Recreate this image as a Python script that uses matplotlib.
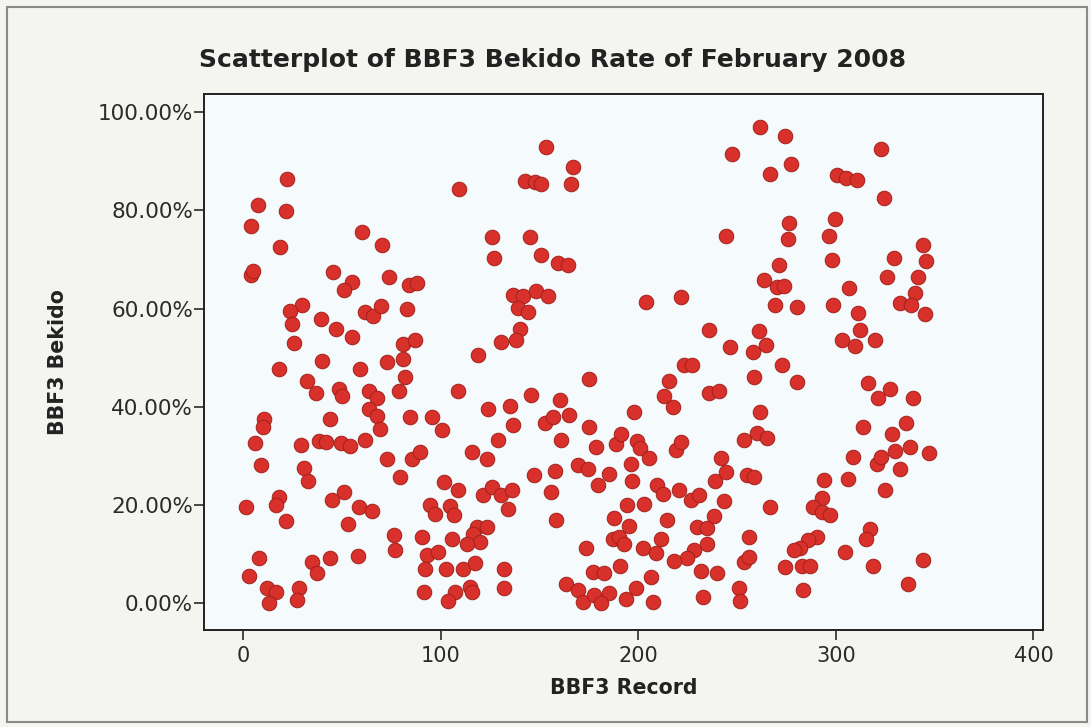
import matplotlib
matplotlib.use("Agg")
import matplotlib.pyplot as plt
from matplotlib.patches import Rectangle
from matplotlib.ticker import FuncFormatter

# BBF3 record number and Bekido rate (%) for February 2008
record = [
    22.5, 7.7, 22.0, 4.0, 19.0, 60.0, 70.4, 4.0, 5.0, 45.5,
    55.0, 51.0, 74.0, 84.0, 83.0, 29.7, 24.0, 25.0, 39.3, 46.9,
    55.0, 61.6, 66.0, 70.0, 25.8, 40.0, 73.0, 81.0, 81.0, 18.0,
    59.4,
    32.6, 36.8, 48.5, 50.2, 82.0, 78.8, 63.6, 67.9, 63.6, 67.9,
    69.5, 84.6, 10.7, 9.9, 44.3, 6.2, 29.2, 38.4, 41.8, 49.4,
    54.4, 61.6, 72.9, 85.5, 79.6, 9.1, 30.9, 33.1, 1.5, 18.3,
    16.6, 21.7, 51.0, 45.2, 58.6, 65.3, 53.2, 76.2, 77.0, 7.9,
    35.1, 37.6, 44.3, 58.3, 3.2, 12.4, 16.6, 13.2, 28.4, 27.5,
    153.1, 166.9, 166.1, 142.6, 147.6, 151.0, 109.5, 126.1, 145.1, 127.1,
    150.6, 159.3, 164.4, 88.0, 87.2, 136.7, 141.7, 148.5, 154.3, 139.2,
    144.2, 140.0, 138.4, 130.8, 118.7,
    109.0, 145.9, 160.2, 124.1, 135.0, 95.6, 100.6, 136.7, 152.6, 156.8,
    165.2, 129.1, 161.0, 89.7, 115.7, 123.3, 147.3, 157.7, 169.4, 101.9,
    108.7, 121.6, 125.8, 130.8, 136.2, 134.2, 156.0, 94.7, 97.2, 104.8,
    107.0, 158.5, 118.2, 123.3, 116.5, 119.9, 113.2, 90.5, 105.6, 93.0,
    98.9, 92.2, 102.6, 111.5, 117.4, 132.1, 132.1, 91.4, 107.3, 103.9,
    114.9, 115.7, 163.6, 169.4, 175.0, 175.3, 174.5, 173.6, 177.0, 172.0,
    261.8, 247.5, 266.8, 244.2, 263.5, 203.9, 221.8, 235.8, 261.0, 264.8,
    258.1, 246.7, 223.2, 227.4,
    258.4, 215.6, 213.1, 217.8, 235.8, 240.8, 261.8, 198.0, 178.7, 188.8,
    191.3, 199.6, 201.0, 205.5, 219.0, 221.5, 253.4, 260.1, 265.1, 241.7,
    185.4, 196.3, 179.5, 197.1, 209.7, 212.7, 220.7, 226.6, 230.7, 239.1,
    244.2, 255.1, 258.4, 243.3, 266.5, 194.3, 203.0, 187.9, 195.5, 214.8,
    229.9, 234.9, 238.3, 255.9, 187.1, 190.4, 193.0, 202.2, 208.9, 211.4,
    228.2, 224.8, 218.1, 234.9, 253.4, 255.9, 190.9, 206.4, 231.6, 240.0,
    198.8, 177.8, 185.4, 181.2, 193.8, 207.7, 232.9, 250.9, 251.7, 182.9,
    274.4, 277.3, 323.1, 300.4, 305.4, 310.5, 324.3, 299.6, 276.1, 275.6,
    296.7, 297.9, 344.1, 329.5, 345.8, 326.0, 341.6, 271.0, 270.2, 273.6,
    269.4, 280.6, 298.7, 306.8, 339.9, 332.3, 338.2, 344.9, 311.3, 312.2,
    302.9, 309.6, 319.7, 272.7,
    280.6, 316.4, 327.3, 321.4, 339.0, 313.9, 335.4, 328.6, 308.5, 329.8,
    337.4, 347.4, 320.6, 323.1, 332.6, 294.0, 306.3, 324.8, 292.8, 288.7,
    292.8, 297.0, 317.2, 315.5, 290.3, 286.1, 281.9, 278.6, 304.6, 344.1,
    274.4, 282.8, 287.0, 318.6, 336.5, 283.3,
]

bekido = [
    86.4, 81.0, 79.9, 76.8, 72.6, 75.6, 72.9, 66.9, 67.6, 67.5,
    65.3, 63.7, 66.5, 64.8, 59.9, 60.8, 59.6, 56.9, 57.8, 55.9,
    54.3, 59.2, 58.4, 60.5, 52.9, 49.3, 49.1, 52.7, 49.7, 47.6,
    47.6,
    45.3, 42.9, 43.6, 42.2, 46.0, 43.3, 43.3, 41.9, 39.5, 38.2,
    35.5, 37.9, 37.5, 35.8, 37.5, 32.6, 32.3, 33.1, 32.8, 32.7,
    32.1, 33.3, 29.4, 29.4, 25.7, 28.1, 27.5, 24.9, 19.6, 21.7,
    20.0, 16.8, 22.7, 21.1, 19.6, 18.8, 16.1, 13.9, 10.9, 9.3,
    8.5, 6.1, 9.2, 9.7, 5.5, 3.1, 2.4, 0.1, 3.1, 0.7,
    92.9, 88.8, 85.4, 86.0, 85.8, 85.4, 84.4, 74.6, 74.6, 70.2,
    70.8, 69.2, 68.8, 65.2, 53.7, 62.8, 62.6, 63.5, 62.6, 60.1,
    59.2, 55.9, 53.6, 53.2, 50.5,
    43.3, 42.5, 41.4, 39.5, 40.2, 37.9, 35.2, 36.4, 36.8, 38.0,
    38.3, 33.3, 33.3, 30.9, 30.8, 29.4, 26.1, 26.9, 28.1, 24.7,
    23.0, 22.0, 23.7, 22.0, 23.0, 19.3, 22.7, 20.1, 18.3, 19.8,
    18.1, 16.9, 15.6, 15.6, 14.2, 12.6, 12.0, 13.6, 13.1, 9.9,
    10.5, 7.0, 7.0, 7.1, 8.2, 7.0, 3.1, 2.3, 2.4, 0.5,
    3.4, 2.4, 3.9, 2.8, 45.6, 35.8, 27.3, 11.2, 6.5, 0.4,
    97.0, 91.4, 87.4, 74.8, 65.8, 61.3, 62.3, 55.7, 55.4, 52.5,
    51.2, 52.2, 48.6, 48.6,
    46.0, 45.3, 42.2, 39.9, 42.9, 43.3, 39.0, 39.0, 31.8, 32.4,
    34.5, 33.1, 31.6, 29.6, 31.3, 32.8, 33.3, 34.7, 33.6, 29.6,
    26.4, 28.4, 24.2, 25.0, 24.2, 22.3, 23.0, 21.0, 22.0, 25.0,
    26.7, 26.1, 25.7, 20.8, 19.6, 20.0, 20.3, 17.4, 15.8, 16.9,
    15.6, 15.3, 17.8, 13.6, 13.2, 13.6, 12.2, 11.2, 10.2, 13.2,
    10.9, 9.2, 8.6, 12.2, 8.5, 9.5, 7.7, 5.3, 6.6, 6.1,
    3.1, 1.8, 2.1, 0.1, 0.9, 0.4, 1.4, 3.1, 0.5, 6.1,
    95.2, 89.5, 92.5, 87.1, 86.6, 86.2, 82.4, 78.3, 77.3, 74.1,
    74.8, 69.9, 72.9, 70.2, 69.6, 66.5, 66.5, 68.8, 64.4, 64.6,
    60.8, 60.3, 60.8, 64.2, 63.2, 61.1, 60.8, 58.8, 59.0, 55.7,
    53.6, 52.4, 53.6, 48.6,
    45.1, 44.8, 43.7, 41.7, 41.9, 36.0, 36.7, 34.5, 29.8, 31.1,
    31.8, 30.6, 28.4, 29.8, 27.4, 25.2, 25.4, 23.0, 21.5, 19.6,
    18.6, 18.0, 15.2, 13.2, 13.6, 12.9, 11.2, 10.9, 10.4, 8.8,
    7.5, 7.7, 7.7, 7.7, 3.9, 2.8,
]

x_ticks = [0, 100, 200, 300, 400]
y_ticks = [0, 20, 40, 60, 80, 100]

plt.rcParams['font.family'] = ['DejaVu Sans']

fig = plt.figure(figsize=(10.91, 7.27), dpi=100, facecolor='#f4f4f1')
ax = fig.add_axes([0.187, 0.1334, 0.7693, 0.7370])
ax.set_facecolor('#f5fafc')

ax.scatter(record, bekido, s=110, c='#d8302a', edgecolors='#a3201b',
           linewidths=0.7, zorder=3)

ax.set_xlim(-19.7, 405.0)
ax.set_ylim(-5.4, 103.6)
ax.set_xticks(x_ticks)
ax.set_yticks(y_ticks)
ax.yaxis.set_major_formatter(FuncFormatter(lambda v, _: f"{v:.2f}%"))
ax.tick_params(direction='out', length=7, width=1.2, colors='#2a2a2a',
               pad=1.5)
ax.tick_params(axis='y', labelsize=15.5, pad=1)
ax.tick_params(axis='x', labelsize=15, pad=4.5)
for sp in ax.spines.values():
    sp.set_linewidth(1.4)
    sp.set_color('#222222')

ax.set_xlabel("BBF3 Record", fontsize=14.8, fontweight='bold', labelpad=9,
              color='#222222')
ax.set_ylabel("BBF3 Bekido", fontsize=14.8, fontweight='bold', labelpad=21,
              color='#222222')

fig.text(0.506, 0.918, "Scatterplot of BBF3 Bekido Rate of February 2008",
         ha='center', va='center', fontsize=18, fontweight='bold',
         color='#222222')

# thin grey frame around the whole graph window
fig.patches.append(Rectangle((7 / 1091, 5 / 727), 1080 / 1091, 715 / 727,
                             transform=fig.transFigure, fill=False,
                             edgecolor='#8a8a8a', linewidth=1.5))

fig.savefig("out.png", dpi=100, facecolor=fig.get_facecolor())
